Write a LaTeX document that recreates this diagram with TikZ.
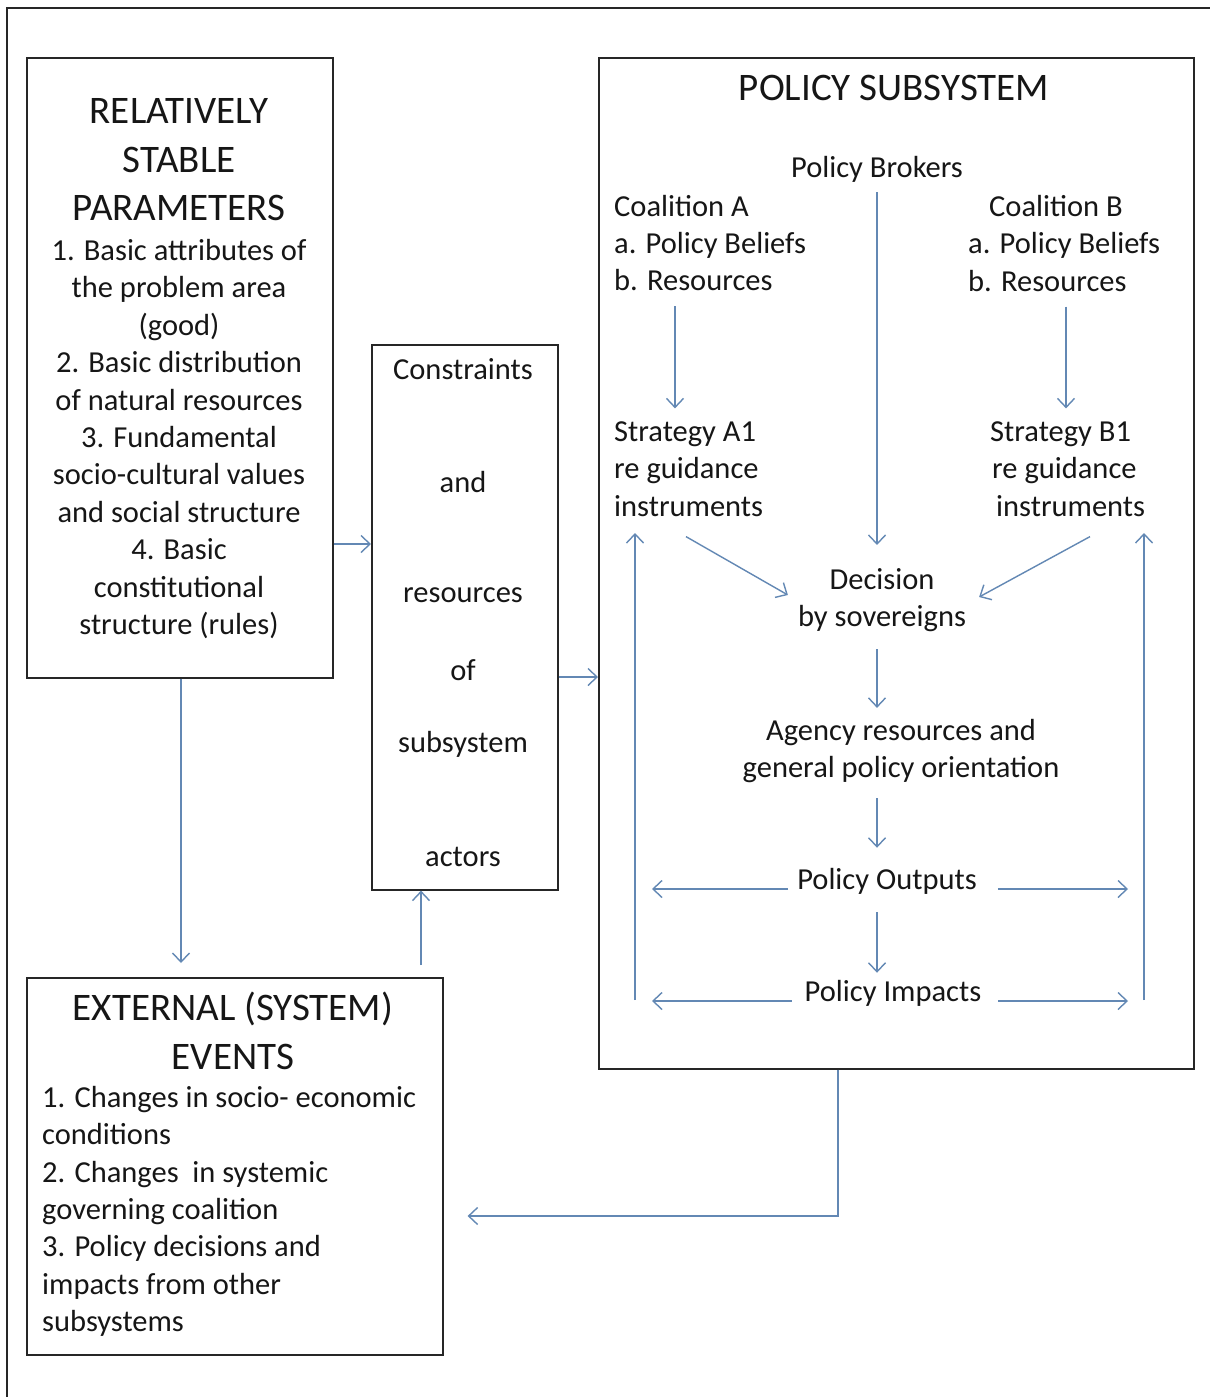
\documentclass[tikz,border=0pt]{standalone}
\usepackage{fontspec}
\setmainfont{Carlito}
\usetikzlibrary{arrows.meta,calc}
\definecolor{arr}{HTML}{6388B4}
\definecolor{txt}{HTML}{161616}
\begin{document}
\begin{tikzpicture}[x=1pt,y=-1pt,
  box/.style={draw=black!85, line width=1.6pt, inner sep=0pt},
  con/.style={draw=arr, line width=1.4pt, -{Straight Barb[length=9pt,width=17pt,line width=1.4pt]}},
  body/.style={font=\fontsize{30.5}{37.4}\selectfont, text=txt, inner sep=0pt},
  head/.style={font=\fontsize{39}{48.5}\selectfont, text=txt, inner sep=0pt}]
\useasboundingbox (0,0) rectangle (1210,1397);
\fill[white] (0,0) rectangle (1210,1397);
\draw[black!85, line width=1.4pt] (7,1397) -- (7,8) -- (1210,8);

% boxes
\node[box, anchor=north west, minimum width=306pt, minimum height=620pt] (b1) at (26,57) {};
\node[box, anchor=north west, minimum width=186pt, minimum height=545pt] (b2) at (371,344) {};
\node[box, anchor=north west, minimum width=595pt, minimum height=1011pt] (b3) at (598,57) {};
\node[box, anchor=north west, minimum width=416pt, minimum height=377pt] (b4) at (26,977) {};

% box 1 text
\node[head, align=center] (t1h) at (179,160) {RELATIVELY\\STABLE\\PARAMETERS};
\node[body, align=center] (t1b) at (179,439) {1. Basic attributes of\\the problem area\\(good)\\2. Basic distribution\\of natural resources\\3. Fundamental\\socio-cultural values\\and social structure\\4. Basic\\constitutional\\structure (rules)};

% box 2 text
\node[body] (c1) at (463,369) {Constraints};
\node[body] (c2) at (463,482) {and};
\node[body] (c3) at (463,595) {resources};
\node[body] (c4) at (463,670) {of};
\node[body] (c5) at (463,744) {subsystem};
\node[body] (c6) at (463,857) {actors};

% box 3 text
\node[head] (t3h) at (894,88) {POLICY SUBSYSTEM};
\node[body] (brk) at (877,169) {Policy Brokers};
\node[body, align=left, anchor=west] (coalA) at (614,243) {Coalition A\\a. Policy Beliefs\\b. Resources};
\node[body, anchor=west] (coalBt) at (989,206) {Coalition B};
\node[body, align=left, anchor=west] (coalB) at (968,262) {a. Policy Beliefs\\b. Resources};
\node[body, align=left, anchor=west] (stratA) at (614,469) {Strategy A1\\re guidance\\instruments};
\node[body, align=left, anchor=west] (stratB) at (990,469) {Strategy B1\\\hspace{2pt}re guidance\\\hspace{6pt}instruments};
\node[body, align=center] (dec) at (882,600) {Decision\\by sovereigns};
\node[body, align=center] (agency) at (901,751) {Agency resources and\\general policy orientation};
\node[body] (outp) at (887,881) {Policy Outputs};
\node[body] (imp) at (893,993) {Policy Impacts};

% box 4 text
\node[head, align=center] (t4h) at (233,1031) {EXTERNAL (SYSTEM)\\EVENTS};
\node[body, align=left, anchor=north west] (t4b) at (42,1086) {1. Changes in socio- economic\\conditions\\2. Changes~ in systemic\\governing coalition\\3. Policy decisions and\\impacts from other\\subsystems};

% free ends of the feedback lines
\coordinate (lvb) at (635,1000);
\coordinate (lvt) at (635,533);
\coordinate (rvb) at (1144,1000);
\coordinate (rvt) at (1144,533);

% connectors between boxes
\draw[con] (b1.east |- 0,544) -- (b2.west |- 0,544);
\draw[con] (b2.east |- 0,677) -- (b3.west |- 0,677);
\draw[con] (b1.south -| 181,0) -- ($(b4.north -| 181,0)+(0,-14)$);
\draw[con] ($(b4.north -| 421,0)+(0,-12)$) -- (b2.south -| 421,0);
\draw[con] (b3.south -| 838,0) |- ($(b4.east |- 0,1216)+(24,0)$);

% connectors in the policy subsystem
\draw[con, shorten <=15pt, shorten >=13pt] (coalA.south -| 675,0) -- (stratA.north -| 675,0);
\draw[con, shorten <=15pt, shorten >=13pt] (coalB.south -| 1066,0) -- (stratB.north -| 1066,0);
\draw[con, shorten <=10pt, shorten >=23pt] (brk.south -| 877,0) -- (dec.north -| 877,0);
\draw[con] ($(stratA.south west)+(72,20)$) -- ($(dec.west)+(-10,-5)$);
\draw[con] ($(stratB.south west)+(100,20)$) -- ($(dec.east)+(13,-3)$);
\draw[con, shorten <=17pt, shorten >=11pt] (dec.south -| 877,0) -- (agency.north -| 877,0);
\draw[con, shorten <=15pt, shorten >=20pt] (agency.south -| 877,0) -- (outp.north -| 877,0);
\draw[con, shorten <=18pt, shorten >=7pt] (outp.south -| 877,0) -- (imp.north -| 877,0);

\draw[con] ($(outp.west)+(-9,8)$) -- ($(lvb |- outp)+(17,8)$);
\draw[con] ($(outp.east)+(21,8)$) -- ($(rvb |- outp)+(-16,8)$);
\draw[con] ($(imp.west)+(-13,8)$) -- ($(lvb |- imp)+(17,8)$);
\draw[con] ($(imp.east)+(17,8)$) -- ($(rvb |- imp)+(-16,8)$);

\draw[con] (lvb) -- (lvt);
\draw[con] (rvb) -- (rvt);
\end{tikzpicture}
\end{document}
